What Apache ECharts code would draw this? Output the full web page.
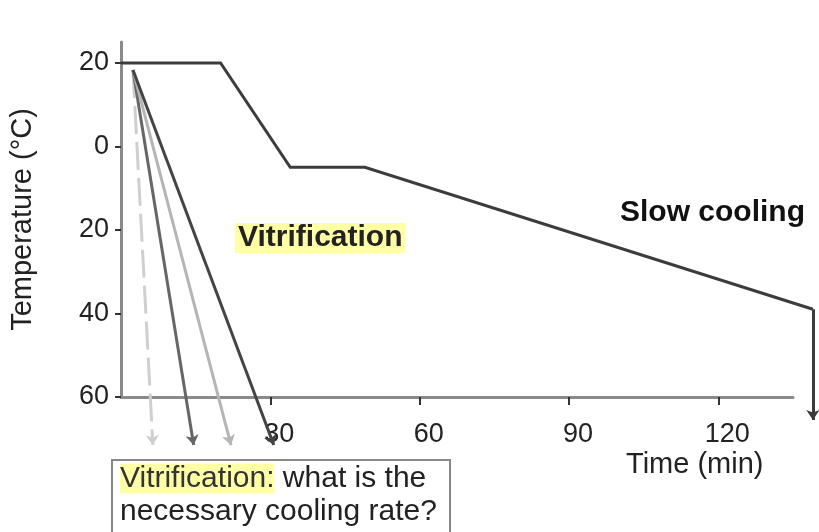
<!DOCTYPE html>
<html>
<head>
<meta charset="utf-8">
<script src="https://cdn.jsdelivr.net/npm/echarts@6/dist/echarts.min.js"></script>
<style>
  html, body { margin: 0; padding: 0; background: #fff; }
  #chart { width: 819px; height: 532px; }
</style>
</head>
<body>
<div id="chart"></div>
<script>
// slow cooling protocol (time in min, temperature in °C)
var mainTime = [0, 20, 34, 49, 139]
var mainTemp = [20, 20, -5, -5, -39]
var dropEndTemp = -65.5

// vitrification fan: common start, end times of each arrow
var fanStart = [2.4, 18.3]
var fanEndTime = [6.4, 14.6, 22.1, 30.7]
var fanEndTemp = -71.5
var fanColors = ['#cfcfcf', '#666666', '#b5b5b5', '#444444']
var fanDash = [[28, 8], 'solid', 'solid', 'solid']

var xTicks = [30, 60, 90, 120]
var yTicks = [-60, -40, -20, 0, 20]

var font = '"Liberation Sans", Arial, sans-serif'

var mainData = mainTime.map(function (t, i) { return [t, mainTemp[i]] })

var series = [{
  // slow cooling curve (runs past the end of the x axis, so not clipped)
  type: 'lines',
  coordinateSystem: 'cartesian2d',
  polyline: true,
  clip: false,
  silent: true,
  lineStyle: { color: '#3c3c3c', width: 3, opacity: 1 },
  data: [{ coords: mainData }]
}, {
  // final drop after slow cooling
  type: 'lines',
  coordinateSystem: 'cartesian2d',
  clip: false,
  silent: true,
  symbol: ['none', 'arrow'],
  symbolSize: 10,
  lineStyle: { color: '#3c3c3c', width: 3, opacity: 1 },
  data: [{ coords: [mainData[mainData.length - 1], [mainTime[mainTime.length - 1], dropEndTemp]] }]
}]

fanEndTime.forEach(function (t, i) {
  series.push({
    type: 'lines',
    coordinateSystem: 'cartesian2d',
    clip: false,
    silent: true,
    symbol: ['none', 'arrow'],
    symbolSize: 10,
    lineStyle: { color: fanColors[i], width: 3, type: fanDash[i], opacity: 1 },
    data: [{ coords: [fanStart, [t, fanEndTemp]] }]
  })
})

var option = {
  animation: false,
  backgroundColor: '#ffffff',
  grid: { left: 120, right: 26, top: 42, bottom: 135 },
  xAxis: {
    type: 'value',
    min: 0,
    max: 135,
    interval: 30,
    splitLine: { show: false },
    axisLine: { onZero: false, lineStyle: { color: '#8a8a8a', width: 3 } },
    axisTick: { customValues: xTicks, length: 8, lineStyle: { color: '#333', width: 2 } },
    axisLabel: {
      customValues: xTicks,
      margin: 24,
      padding: [0, 0, 0, 18],
      color: '#222',
      fontSize: 27,
      fontFamily: font
    }
  },
  yAxis: {
    type: 'value',
    min: -60,
    max: 25,
    interval: 20,
    name: 'Temperature (°C)',
    nameLocation: 'middle',
    nameRotate: 90,
    nameGap: 84,
    nameTextStyle: { color: '#222', fontSize: 29, fontFamily: font },
    splitLine: { show: false },
    axisLine: { onZero: false, lineStyle: { color: '#8a8a8a', width: 3 } },
    axisTick: { customValues: yTicks, length: 6, lineStyle: { color: '#333', width: 2 } },
    axisLabel: {
      customValues: yTicks,
      margin: 12,
      color: '#222',
      fontSize: 27,
      fontFamily: font,
      formatter: function (v) { return String(Math.abs(v)) }
    }
  },
  graphic: [{
    type: 'text',
    left: 235, top: 223,
    style: {
      text: 'Vitrification',
      font: 'bold 30px ' + font,
      fill: '#222',
      backgroundColor: '#ffffa6',
      padding: [0, 3, 0, 3]
    }
  }, {
    type: 'text',
    left: 620, top: 198,
    style: { text: 'Slow cooling', font: 'bold 30px ' + font, fill: '#111' }
  }, {
    type: 'text',
    left: 626, top: 450,
    style: { text: 'Time (min)', font: '29px ' + font, fill: '#222' }
  }, {
    type: 'rect',
    shape: { x: 112, y: 460, width: 338, height: 90 },
    style: { fill: '#fff', stroke: '#888', lineWidth: 2 }
  }, {
    type: 'text',
    left: 120, top: 462,
    style: {
      text: '{hl|Vitrification:} what is the\nnecessary cooling rate?',
      font: '30px ' + font,
      fill: '#222',
      lineHeight: 33,
      rich: {
        hl: { backgroundColor: '#ffffa6', font: '30px ' + font, fill: '#333', lineHeight: 33 }
      }
    }
  }],
  series: series
}

var myChart = echarts.init(document.getElementById('chart'))
myChart.setOption(option)
window.addEventListener('resize', function () { myChart.resize() })
</script>
</body>
</html>
